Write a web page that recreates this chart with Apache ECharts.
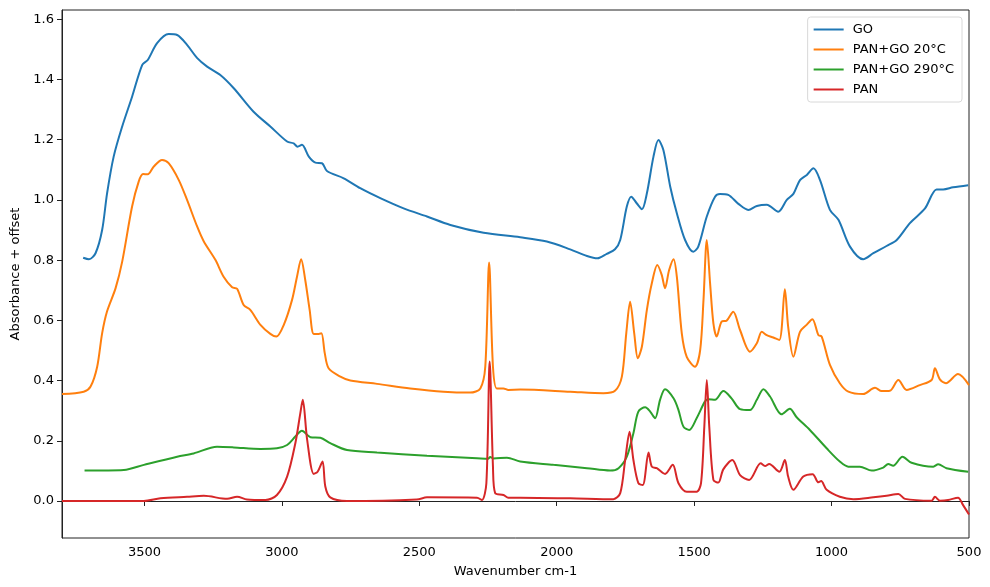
<!DOCTYPE html>
<html>
<head>
<meta charset="utf-8">
<script src="https://cdn.jsdelivr.net/npm/echarts@6/dist/echarts.min.js"></script>
<style>
  html, body { margin: 0; padding: 0; background: #fff; }
  #chart { width: 990px; height: 587px; }
</style>
</head>
<body>
<div id="chart"></div>
<script>
// [wavenumber cm-1, absorbance + offset]
const goSpectrum = [[3723,0.808],[3702,0.803],[3678,0.823],[3654,0.900],[3636,1.022],[3612,1.144],[3581,1.244],[3545,1.343],[3508,1.449],[3488,1.465],[3454,1.521],[3412,1.551],[3381,1.548],[3345,1.515],[3308,1.471],[3272,1.443],[3224,1.415],[3175,1.371],[3103,1.293],[3042,1.244],[2981,1.194],[2957,1.188],[2943,1.177],[2927,1.183],[2902,1.144],[2878,1.124],[2854,1.122],[2836,1.096],[2775,1.072],[2715,1.039],[2642,1.006],[2557,0.972],[2472,0.945],[2387,0.917],[2266,0.891],[2133,0.876],[2036,0.862],[1951,0.836],[1890,0.814],[1852,0.806],[1818,0.821],[1788,0.836],[1769,0.867],[1745,0.978],[1729,1.011],[1709,0.989],[1690,0.969],[1672,1.022],[1648,1.144],[1630,1.199],[1612,1.166],[1587,1.044],[1563,0.956],[1533,0.867],[1503,0.828],[1485,0.845],[1454,0.945],[1424,1.011],[1406,1.020],[1376,1.017],[1339,0.987],[1303,0.967],[1272,0.980],[1236,0.984],[1194,0.961],[1163,1.000],[1139,1.020],[1115,1.066],[1090,1.083],[1066,1.105],[1042,1.066],[1006,0.967],[975,0.934],[933,0.845],[885,0.803],[848,0.823],[800,0.847],[763,0.867],[715,0.923],[660,0.972],[618,1.035],[594,1.035],[558,1.042],[503,1.049]];

const pango20Spectrum = [[3800,0.355],[3721,0.363],[3696,0.380],[3672,0.446],[3654,0.557],[3636,0.630],[3605,0.707],[3581,0.795],[3545,0.978],[3521,1.061],[3505,1.086],[3488,1.085],[3466,1.111],[3436,1.133],[3412,1.122],[3375,1.066],[3345,1.000],[3308,0.911],[3284,0.862],[3242,0.801],[3212,0.745],[3181,0.710],[3163,0.705],[3139,0.651],[3115,0.635],[3078,0.585],[3042,0.555],[3020,0.546],[2993,0.585],[2963,0.668],[2945,0.745],[2930,0.803],[2915,0.734],[2899,0.635],[2884,0.555],[2866,0.555],[2856,0.557],[2844,0.491],[2830,0.441],[2787,0.413],[2751,0.400],[2654,0.389],[2533,0.374],[2412,0.363],[2315,0.360],[2278,0.374],[2260,0.446],[2246,0.792],[2232,0.446],[2218,0.374],[2194,0.374],[2176,0.369],[2133,0.370],[1951,0.363],[1830,0.358],[1788,0.366],[1763,0.413],[1747,0.557],[1733,0.662],[1718,0.557],[1705,0.474],[1690,0.513],[1672,0.635],[1654,0.723],[1634,0.784],[1618,0.751],[1606,0.707],[1591,0.767],[1575,0.803],[1563,0.745],[1545,0.557],[1527,0.479],[1497,0.446],[1478,0.502],[1466,0.668],[1454,0.867],[1442,0.723],[1430,0.590],[1418,0.546],[1400,0.596],[1382,0.599],[1358,0.629],[1333,0.568],[1297,0.496],[1272,0.524],[1254,0.562],[1236,0.551],[1212,0.543],[1190,0.535],[1170,0.703],[1158,0.579],[1139,0.479],[1115,0.562],[1091,0.585],[1070,0.604],[1048,0.551],[1036,0.546],[1006,0.452],[970,0.391],[939,0.363],[885,0.355],[842,0.376],[818,0.365],[788,0.366],[757,0.402],[727,0.369],[679,0.385],[636,0.402],[624,0.441],[606,0.404],[584,0.391],[540,0.422],[500,0.385]];

const pango290Spectrum = [[3718,0.101],[3575,0.103],[3502,0.120],[3381,0.147],[3321,0.158],[3236,0.180],[3175,0.178],[3078,0.173],[3018,0.175],[2981,0.186],[2951,0.214],[2927,0.233],[2896,0.212],[2860,0.210],[2824,0.192],[2763,0.169],[2654,0.161],[2472,0.150],[2290,0.142],[2250,0.140],[2242,0.146],[2230,0.141],[2181,0.144],[2133,0.131],[2012,0.120],[1890,0.109],[1806,0.101],[1775,0.109],[1745,0.147],[1721,0.225],[1703,0.297],[1678,0.311],[1660,0.297],[1642,0.275],[1624,0.336],[1606,0.371],[1575,0.341],[1557,0.302],[1539,0.247],[1518,0.236],[1491,0.275],[1461,0.330],[1449,0.338],[1424,0.336],[1394,0.365],[1364,0.341],[1333,0.305],[1297,0.302],[1272,0.336],[1248,0.371],[1224,0.347],[1182,0.288],[1152,0.306],[1127,0.278],[1079,0.236],[1018,0.175],[970,0.131],[939,0.114],[897,0.114],[854,0.101],[812,0.111],[794,0.123],[776,0.117],[742,0.147],[709,0.127],[630,0.114],[612,0.122],[582,0.109],[503,0.097]];

const panSpectrum = [[3800,0.000],[3502,0.000],[3442,0.009],[3345,0.014],[3284,0.017],[3199,0.007],[3163,0.014],[3127,0.005],[3060,0.003],[3018,0.020],[2981,0.081],[2951,0.192],[2933,0.291],[2924,0.336],[2908,0.203],[2884,0.090],[2870,0.097],[2852,0.131],[2842,0.048],[2824,0.012],[2763,0.000],[2509,0.005],[2472,0.012],[2290,0.011],[2272,0.003],[2256,0.059],[2244,0.463],[2232,0.114],[2224,0.026],[2194,0.020],[2176,0.011],[2133,0.011],[1951,0.009],[1794,0.006],[1769,0.026],[1751,0.136],[1735,0.230],[1721,0.136],[1703,0.059],[1687,0.053],[1666,0.161],[1654,0.114],[1636,0.109],[1606,0.090],[1578,0.120],[1557,0.059],[1527,0.031],[1491,0.031],[1475,0.059],[1463,0.247],[1454,0.402],[1445,0.247],[1430,0.070],[1412,0.061],[1394,0.105],[1361,0.136],[1333,0.086],[1300,0.070],[1258,0.125],[1242,0.116],[1227,0.123],[1190,0.097],[1170,0.136],[1158,0.081],[1139,0.037],[1103,0.081],[1069,0.089],[1048,0.062],[1038,0.066],[1018,0.037],[970,0.014],[921,0.006],[848,0.012],[800,0.017],[757,0.023],[733,0.007],[636,0.001],[624,0.014],[606,0.001],[576,0.003],[540,0.011],[522,-0.013],[500,-0.045]];

const seriesNames = ['GO', 'PAN+GO 20°C', 'PAN+GO 290°C', 'PAN'];
const seriesColors = ['#1f77b4', '#ff7f0e', '#2ca02c', '#d62728'];
const spectra = [goSpectrum, pango20Spectrum, pango290Spectrum, panSpectrum];

const font = 'DejaVu Sans';
const chart = echarts.init(document.getElementById('chart'), null, { renderer: 'canvas' });

chart.setOption({
  animation: false,
  color: seriesColors,
  grid: {
    left: 62, right: 21, top: 10, bottom: 49,
    show: true, borderColor: '#222', borderWidth: 1
  },
  legend: {
    data: seriesNames,
    orient: 'vertical',
    right: 28, top: 17,
    icon: 'rect',
    itemWidth: 30, itemHeight: 2,
    itemGap: 7,
    padding: [6, 8, 6, 6],
    borderColor: '#d8d8d8', borderWidth: 1, borderRadius: 3,
    backgroundColor: 'rgba(255,255,255,0.8)',
    textStyle: { fontFamily: font, fontSize: 13, color: '#000', padding: [0, 0, 0, 4] }
  },
  xAxis: {
    type: 'value',
    inverse: true,
    min: 500, max: 3800, interval: 500,
    name: 'Wavenumber cm-1',
    nameLocation: 'middle',
    nameGap: 27,
    nameTextStyle: { fontFamily: font, fontSize: 13, color: '#000' },
    axisLine: { lineStyle: { color: '#222' } },
    axisTick: { length: 5, lineStyle: { color: '#222' } },
    axisLabel: {
      fontFamily: font, fontSize: 13, color: '#000', margin: 8, showMaxLabel: false,
      formatter: v => String(v)
    },
    splitLine: { show: false }
  },
  yAxis: {
    type: 'value',
    min: -0.123, max: 1.631,
    splitNumber: 8,
    name: 'Absorbance + offset',
    nameLocation: 'middle',
    nameGap: 40,
    nameTextStyle: { fontFamily: font, fontSize: 13, color: '#000' },
    axisLine: { show: true, lineStyle: { color: '#222' } },
    axisTick: { show: true, length: 5, lineStyle: { color: '#222' } },
    axisLabel: {
      fontFamily: font, fontSize: 13, color: '#000', margin: 8,
      showMinLabel: false, showMaxLabel: false,
      formatter: v => v.toFixed(1)
    },
    splitLine: { show: false }
  },
  series: spectra.map((data, i) => ({
    name: seriesNames[i],
    type: 'line',
    data: data,
    showSymbol: false,
    smooth: 0.3,
    lineStyle: { width: 2 },
    clip: true
  }))
});
</script>
</body>
</html>
